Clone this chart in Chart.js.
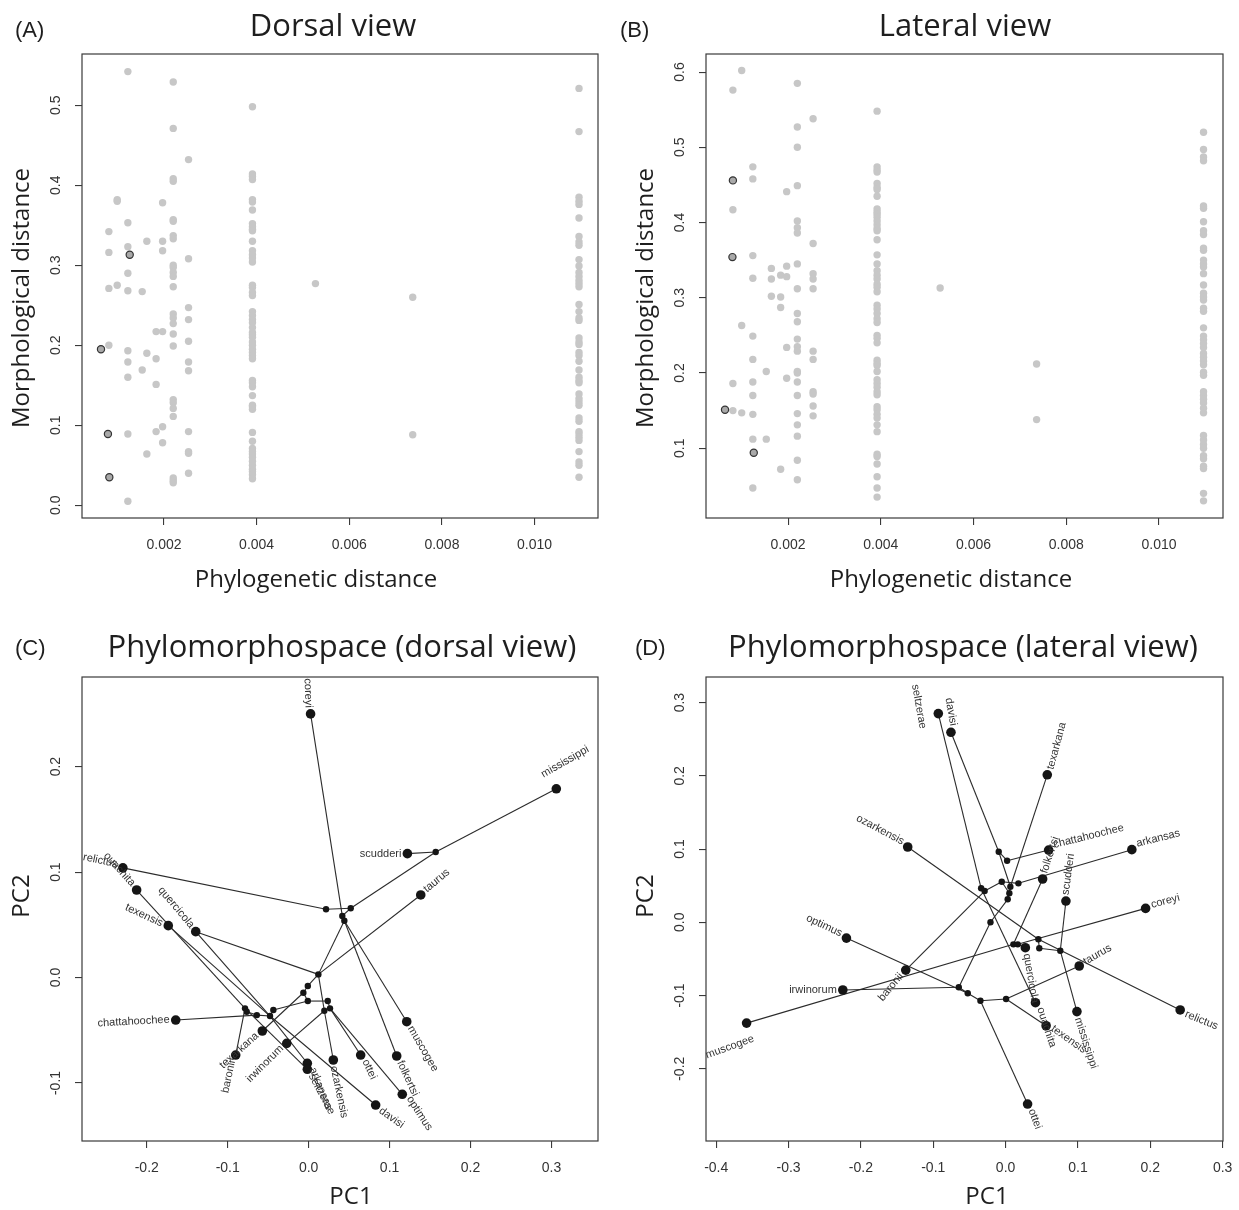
<!DOCTYPE html>
<html>
<head>
<meta charset="utf-8">
<script src="https://cdn.jsdelivr.net/npm/chart.js@4.4.1/dist/chart.umd.min.js"></script>
<style>
  body { margin: 0; background: #fff; }
  #wrap { position: relative; width: 1239px; height: 1210px; }
  canvas { position: absolute; }
</style>
</head>
<body>
<div id="wrap">
  <canvas id="pA" width="620" height="605" style="left:0;top:0"></canvas>
  <canvas id="pB" width="619" height="605" style="left:620px;top:0"></canvas>
  <canvas id="pC" width="620" height="605" style="left:0;top:605px"></canvas>
  <canvas id="pD" width="619" height="605" style="left:620px;top:605px"></canvas>
</div>
<script>
// ---------- ticks ----------
const phyloTicks = [0.002, 0.004, 0.006, 0.008, 0.010];
const dorsalMorphTicks = [0.0, 0.1, 0.2, 0.3, 0.4, 0.5];
const lateralMorphTicks = [0.1, 0.2, 0.3, 0.4, 0.5, 0.6];
const pcTicksCx = [-0.2, -0.1, 0.0, 0.1, 0.2, 0.3];
const pcTicksCy = [-0.1, 0.0, 0.1, 0.2];
const pcTicksDx = [-0.4, -0.3, -0.2, -0.1, 0.0, 0.1, 0.2, 0.3];
const pcTicksDy = [-0.2, -0.1, 0.0, 0.1, 0.2, 0.3];

// ---------- (A) dorsal: phylogenetic vs morphological distance ----------
const dorsalX = [0.00081, 0.00099, 0.00122, 0.00153, 0.00163, 0.00183, 0.00197, 0.00220, 0.00253, 0.00391, 0.00527, 0.00737, 0.01096];
const dorsalY = [
  [0.271, 0.316, 0.342, 0.200],
  [0.382, 0.380, 0.275],
  [0.542, 0.353, 0.323, 0.290, 0.268, 0.193, 0.179, 0.160, 0.089, 0.005],
  [0.267, 0.169],
  [0.330, 0.190, 0.064],
  [0.217, 0.183, 0.151, 0.092],
  [0.378, 0.330, 0.318, 0.217, 0.098, 0.078],
  [0.529, 0.471, 0.408, 0.405, 0.357, 0.355, 0.337, 0.333, 0.300, 0.297, 0.291, 0.286, 0.273, 0.239, 0.234, 0.227, 0.214, 0.199, 0.132, 0.128, 0.121, 0.111, 0.034, 0.031, 0.028],
  [0.432, 0.308, 0.247, 0.232, 0.205, 0.179, 0.168, 0.092, 0.067, 0.065, 0.040],
  [0.498, 0.414, 0.411, 0.407, 0.382, 0.379, 0.369, 0.352, 0.348, 0.345, 0.343, 0.330, 0.318, 0.313, 0.309, 0.304, 0.275, 0.272, 0.266, 0.262, 0.242, 0.237, 0.232, 0.228, 0.222, 0.216, 0.213, 0.210, 0.204, 0.200, 0.195, 0.191, 0.187, 0.183, 0.156, 0.153, 0.148, 0.137, 0.125, 0.123, 0.120, 0.091, 0.080, 0.071, 0.067, 0.064, 0.060, 0.055, 0.050, 0.045, 0.042, 0.038, 0.033],
  [0.277],
  [0.260, 0.088],
  [0.521, 0.467, 0.385, 0.380, 0.376, 0.359, 0.336, 0.329, 0.325, 0.307, 0.299, 0.291, 0.286, 0.281, 0.277, 0.273, 0.251, 0.242, 0.234, 0.231, 0.209, 0.204, 0.201, 0.191, 0.187, 0.180, 0.169, 0.160, 0.156, 0.153, 0.139, 0.133, 0.129, 0.125, 0.109, 0.105, 0.092, 0.089, 0.085, 0.081, 0.067, 0.054, 0.050, 0.035]
];
const dorsalHiX = [0.00064, 0.00079, 0.00082, 0.00126];
const dorsalHiY = [0.195, 0.089, 0.035, 0.313];

// ---------- (B) lateral ----------
const lateralX = [0.00081, 0.00100, 0.00124, 0.00153, 0.00164, 0.00184, 0.00197, 0.00220, 0.00254, 0.00392, 0.00528, 0.00736, 0.01096];
const lateralY = [
  [0.576, 0.417, 0.186, 0.150],
  [0.602, 0.263, 0.147],
  [0.474, 0.458, 0.356, 0.326, 0.249, 0.218, 0.188, 0.170, 0.145, 0.112, 0.047],
  [0.202, 0.112],
  [0.339, 0.325, 0.302],
  [0.330, 0.301, 0.287, 0.072],
  [0.441, 0.342, 0.328, 0.234, 0.193],
  [0.585, 0.527, 0.500, 0.449, 0.402, 0.393, 0.386, 0.345, 0.312, 0.279, 0.268, 0.245, 0.235, 0.229, 0.202, 0.200, 0.188, 0.170, 0.146, 0.131, 0.116, 0.084, 0.058],
  [0.538, 0.372, 0.332, 0.325, 0.312, 0.229, 0.218, 0.175, 0.172, 0.156, 0.143],
  [0.548, 0.474, 0.470, 0.467, 0.452, 0.447, 0.444, 0.435, 0.418, 0.414, 0.411, 0.407, 0.402, 0.397, 0.392, 0.389, 0.377, 0.357, 0.345, 0.336, 0.330, 0.325, 0.318, 0.314, 0.308, 0.290, 0.285, 0.279, 0.272, 0.267, 0.250, 0.246, 0.240, 0.217, 0.213, 0.210, 0.202, 0.191, 0.186, 0.181, 0.175, 0.171, 0.155, 0.151, 0.145, 0.140, 0.131, 0.122, 0.092, 0.089, 0.079, 0.062, 0.047, 0.035],
  [0.313],
  [0.212, 0.138],
  [0.520, 0.497, 0.487, 0.482, 0.422, 0.419, 0.401, 0.389, 0.384, 0.366, 0.363, 0.350, 0.345, 0.341, 0.332, 0.317, 0.306, 0.301, 0.297, 0.286, 0.282, 0.260, 0.249, 0.244, 0.239, 0.234, 0.226, 0.221, 0.216, 0.211, 0.201, 0.197, 0.175, 0.170, 0.165, 0.160, 0.153, 0.147, 0.117, 0.111, 0.105, 0.100, 0.090, 0.086, 0.076, 0.073, 0.040, 0.030]
];
const lateralHiX = [0.00064, 0.00081, 0.00080, 0.00126];
const lateralHiY = [0.151, 0.456, 0.354, 0.094];

// ---------- (C) phylomorphospace dorsal ----------
const tipNamesC = ["coreyi", "mississippi", "scudderi", "relictus", "ouachita", "taurus", "texensis", "quercicola", "chattahoochee", "muscogee",
  "texarkana", "irwinorum", "baronii", "ozarkensis", "ottei", "folkertsi", "arkansas", "seltzerae", "optimus", "davisi"];
const tipXC = [0.0024, 0.306, 0.122, -0.2295, -0.2125, 0.1385, -0.1734, -0.1395, -0.1642, 0.1212,
  -0.0572, -0.027, -0.0901, 0.0305, 0.0643, 0.1088, -0.0016, -0.0016, 0.1157, 0.0828];
const tipYC = [0.250, 0.179, 0.1175, 0.104, 0.083, 0.0783, 0.0492, 0.0435, -0.0403, -0.0419,
  -0.0507, -0.0624, -0.0735, -0.0782, -0.0735, -0.0744, -0.0813, -0.0870, -0.1107, -0.1209];
const nodeIdsC = ["B", "C", "D", "A1", "A2", "E", "F", "G", "H", "I", "J", "K", "L", "M", "N", "O", "P"];
const nodeXC = [0.157, 0.052, 0.0215, 0.0416, 0.0441, 0.012, -0.001, -0.0065, -0.001, 0.0236, 0.0194, 0.0264, -0.0786, -0.0765, -0.064, -0.0477, -0.0436];
const nodeYC = [0.119, 0.0657, 0.0647, 0.0584, 0.0539, 0.003, -0.008, -0.0144, -0.0223, -0.0223, -0.0315, -0.0292, -0.0292, -0.0324, -0.0356, -0.0365, -0.0308];
const edgesC = [
  ["coreyi", "A1"], ["A1", "C"], ["C", "D"], ["D", "relictus"], ["C", "B"], ["B", "mississippi"], ["B", "scudderi"],
  ["A1", "A2"], ["A2", "muscogee"], ["A2", "folkertsi"], ["A2", "E"], ["E", "taurus"], ["E", "quercicola"],
  ["E", "J"], ["J", "ozarkensis"], ["J", "irwinorum"], ["E", "F"], ["F", "G"], ["G", "texarkana"], ["G", "H"],
  ["H", "I"], ["I", "K"], ["K", "ottei"], ["K", "optimus"], ["H", "P"], ["P", "O"], ["O", "N"], ["N", "chattahoochee"],
  ["N", "M"], ["M", "L"], ["L", "baronii"], ["L", "ouachita"], ["L", "seltzerae"], ["quercicola", "O"], ["O", "arkansas"],
  ["texensis", "O"], ["O", "davisi"]
];
// label rotation (deg, counter-clockwise) and side of the dot the label sits on (deg)
const labelRotC = [-88, 30, 0, -12, -48, 40, -25, -50, 3, -60, 42, 45, 78, -78, -65, -65, -68, -62, -57, -35];
const labelDirC = [97, 72, 180, 162, 130, 42, 157, 129, 182, -59, 220, 223, 252, -80, -59, -64, -62, -60, -48, -39];

// ---------- (D) phylomorphospace lateral ----------
const tipNamesD = ["seltzerae", "davisi", "texarkana", "ozarkensis", "chattahoochee", "arkansas", "folkertsi", "scudderi", "coreyi", "optimus",
  "taurus", "baronii", "irwinorum", "relictus", "muscogee", "quercicola", "ouachita", "texensis", "mississippi", "ottei"];
const tipXD = [-0.093, -0.0755, 0.0576, -0.1353, 0.0595, 0.1745, 0.0512, 0.0834, 0.1935, -0.220,
  0.1018, -0.138, -0.225, 0.2413, -0.358, 0.0273, 0.0413, 0.056, 0.0986, 0.0304];
const tipYD = [0.285, 0.2595, 0.2014, 0.1028, 0.0987, 0.0992, 0.0591, 0.029, 0.019, -0.0216,
  -0.0597, -0.0653, -0.0925, -0.1197, -0.1377, -0.0347, -0.1098, -0.1413, -0.122, -0.2482];
const nodeIdsD = ["a", "b", "c", "e", "d1", "d2", "d3", "g1", "g2", "i", "j", "k", "m", "n", "o", "p", "q", "r", "s"];
const nodeXD = [-0.0095, 0.0021, -0.0053, 0.0177, 0.0066, 0.0052, 0.0029, -0.0338, -0.029, -0.0209, 0.0108, 0.0168, 0.0453, 0.0466, 0.0756, -0.0647, -0.0523, -0.0348, 0.0007];
const nodeYD = [0.0964, 0.0841, 0.0554, 0.0532, 0.0486, 0.0396, 0.0314, 0.0464, 0.0427, 0.0, -0.0301, -0.0301, -0.0232, -0.0355, -0.0388, -0.0888, -0.097, -0.1071, -0.1048];
const edgesD = [
  ["seltzerae", "g1"], ["g1", "ouachita"], ["davisi", "a"], ["a", "b"], ["b", "chattahoochee"], ["a", "d1"], ["d1", "d2"], ["d2", "d3"],
  ["c", "e"], ["e", "arkansas"], ["texarkana", "d1"], ["d3", "i"], ["i", "p"], ["folkertsi", "j"], ["j", "k"], ["scudderi", "o"],
  ["o", "mississippi"], ["ozarkensis", "m"], ["m", "relictus"], ["m", "n"], ["n", "o"], ["coreyi", "k"], ["j", "muscogee"],
  ["irwinorum", "p"], ["optimus", "q"], ["baronii", "g2"], ["g1", "g2"], ["g2", "c"], ["c", "d2"], ["p", "q"], ["q", "r"],
  ["r", "s"], ["r", "ottei"], ["s", "taurus"], ["s", "texensis"], ["quercicola", "k"]
];
const labelRotD = [-80, -80, 75, -28, 14, 14, 72, 82, 15, -25, 30, 50, 0, -22, 20, -80, -72, -35, -72, -70];
const labelDirD = [160, 90, 72, 148, 19, 23, 73, 85, 20, 151, 32, 229, 180, -26, 235, -80, -66, -31, -74, -64];

// ---------- helpers ----------
const tickFont = '14px "Liberation Sans", Arial, sans-serif';
const titleFont = '31px "Open Sans", sans-serif';
const axisFont = '24px "Open Sans", sans-serif';
const letterFont = '22px "Liberation Sans", Arial, sans-serif';
const tipFont = '11px "Liberation Sans", Arial, sans-serif';

function colsToPoints(xs, ys) {
  const pts = [];
  xs.forEach((x, i) => ys[i].forEach(y => pts.push({ x, y })));
  return pts;
}

function treeDatasets(names, tx, ty, ids, nx, ny, edges) {
  const pos = {};
  names.forEach((n, i) => (pos[n] = { x: tx[i], y: ty[i] }));
  ids.forEach((n, i) => (pos[n] = { x: nx[i], y: ny[i] }));
  const ds = [
    { data: names.map((n, i) => ({ x: tx[i], y: ty[i] })), pointRadius: 4.8, backgroundColor: "#151515", borderWidth: 0 },
    { data: ids.map((n, i) => ({ x: nx[i], y: ny[i] })), pointRadius: 3.2, backgroundColor: "#151515", borderWidth: 0 }
  ];
  edges.forEach(([a, b]) => ds.push({
    data: [{ ...pos[a] }, { ...pos[b] }], showLine: true, pointRadius: 0,
    borderColor: "#2b2b2b", borderWidth: 1.1, tension: 0
  }));
  return ds;
}

function makeDeco(cfg) {
  return {
    id: "deco",
    afterDatasetsDraw(chart) {
      if (!cfg.tips) return;
      const { ctx } = chart;
      const sx = chart.scales.x, sy = chart.scales.y;
      const t = cfg.tips;
      ctx.save();
      ctx.font = tipFont;
      ctx.fillStyle = "#333";
      ctx.textAlign = "center";
      ctx.textBaseline = "middle";
      t.names.forEach((n, i) => {
        const px = sx.getPixelForValue(t.xs[i]), py = sy.getPixelForValue(t.ys[i]);
        const w = ctx.measureText(n).width, h = 8;
        const a = t.rot[i] * Math.PI / 180, d = t.dir[i] * Math.PI / 180;
        const ext = Math.abs(Math.cos(d - a)) * w / 2 + Math.abs(Math.sin(d - a)) * h / 2;
        const r = 6 + ext;
        ctx.save();
        ctx.translate(px + r * Math.cos(d), py - r * Math.sin(d));
        ctx.rotate(-a);
        ctx.fillText(n, 0, 0);
        ctx.restore();
      });
      ctx.restore();
    },
    afterDraw(chart) {
      const { ctx, chartArea: ar } = chart;
      const sx = chart.scales.x, sy = chart.scales.y;
      ctx.save();
      ctx.strokeStyle = "#3a3a3a";
      ctx.lineWidth = 1.2;
      ctx.strokeRect(ar.left, ar.top, ar.right - ar.left, ar.bottom - ar.top);

      ctx.fillStyle = "#333";
      ctx.font = tickFont;
      ctx.textAlign = "center";
      ctx.textBaseline = "middle";
      cfg.xTicks.forEach(v => ctx.fillText(v.toFixed(cfg.xDec), sx.getPixelForValue(v), ar.bottom + 27));
      cfg.yTicks.forEach(v => {
        ctx.save();
        ctx.translate(ar.left - 26, sy.getPixelForValue(v));
        ctx.rotate(-Math.PI / 2);
        ctx.fillText(v.toFixed(cfg.yDec), 0, 0);
        ctx.restore();
      });

      ctx.fillStyle = "#1e1e1e";
      ctx.font = axisFont;
      ctx.fillText(cfg.xTitle, cfg.xTitlePos[0], cfg.xTitlePos[1]);
      ctx.save();
      ctx.translate(cfg.yTitlePos[0], cfg.yTitlePos[1]);
      ctx.rotate(-Math.PI / 2);
      ctx.fillText(cfg.yTitle, 0, 0);
      ctx.restore();

      ctx.textBaseline = "alphabetic";
      ctx.font = titleFont;
      ctx.fillText(cfg.title, cfg.titlePos[0], cfg.titlePos[1]);
      ctx.textAlign = "left";
      ctx.font = letterFont;
      ctx.fillText(cfg.letter, cfg.letterPos[0], cfg.letterPos[1]);
      ctx.restore();
    }
  };
}

function axis(min, max, ticks, horizontal) {
  return {
    type: "linear", min, max,
    afterBuildTicks: s => { s.ticks = ticks.map(v => ({ value: v })); },
    afterFit: s => { if (horizontal) s.height = 0; else s.width = 0; },
    ticks: { display: false },
    grid: { drawOnChartArea: false, drawTicks: true, tickLength: 7, color: "#3a3a3a", lineWidth: 1.1 },
    border: { display: false }
  };
}

function makePanel(id, datasets, pad, xr, yr, cfg) {
  new Chart(document.getElementById(id), {
    type: "scatter",
    data: { datasets },
    options: {
      responsive: false, animation: false, events: [],
      layout: { padding: pad },
      plugins: { legend: { display: false }, tooltip: { enabled: false } },
      scales: {
        x: axis(xr[0], xr[1], cfg.xTicks, true),
        y: axis(yr[0], yr[1], cfg.yTicks, false)
      }
    },
    plugins: [makeDeco(cfg)]
  });
}

function scatterSets(xs, ys, hx, hy) {
  return [
    { data: hx.map((x, i) => ({ x, y: hy[i] })), pointRadius: 3.6, backgroundColor: "#a9a9a9", borderColor: "#333", borderWidth: 1.2 },
    { data: colsToPoints(xs, ys), pointRadius: 3.7, backgroundColor: "#c7c7c7", borderWidth: 0 }
  ];
}

function draw() {
  makePanel("pA", scatterSets(dorsalX, dorsalY, dorsalHiX, dorsalHiY),
    { left: 82, top: 54, right: 22, bottom: 87 }, [0.00023, 0.01137], [-0.016, 0.564], {
      xTicks: phyloTicks, xDec: 3, yTicks: dorsalMorphTicks, yDec: 1,
      title: "Dorsal view", titlePos: [333, 36], letter: "(A)", letterPos: [15, 37],
      xTitle: "Phylogenetic distance", xTitlePos: [316, 580],
      yTitle: "Morphological distance", yTitlePos: [22, 298]
    });

  makePanel("pB", scatterSets(lateralX, lateralY, lateralHiX, lateralHiY),
    { left: 86, top: 54, right: 16, bottom: 87 }, [0.00023, 0.01138], [0.0072, 0.624], {
      xTicks: phyloTicks, xDec: 3, yTicks: lateralMorphTicks, yDec: 1,
      title: "Lateral view", titlePos: [345, 36], letter: "(B)", letterPos: [0, 37],
      xTitle: "Phylogenetic distance", xTitlePos: [331, 580],
      yTitle: "Morphological distance", yTitlePos: [26, 298]
    });

  makePanel("pC", treeDatasets(tipNamesC, tipXC, tipYC, nodeIdsC, nodeXC, nodeYC, edgesC),
    { left: 82, top: 72, right: 22, bottom: 69 }, [-0.28, 0.3575], [-0.155, 0.285], {
      xTicks: pcTicksCx, xDec: 1, yTicks: pcTicksCy, yDec: 1,
      title: "Phylomorphospace (dorsal view)", titlePos: [342, 52], letter: "(C)", letterPos: [15, 50],
      xTitle: "PC1", xTitlePos: [351, 592], yTitle: "PC2", yTitlePos: [22, 291],
      tips: { names: tipNamesC, xs: tipXC, ys: tipYC, rot: labelRotC, dir: labelDirC }
    });

  makePanel("pD", treeDatasets(tipNamesD, tipXD, tipYD, nodeIdsD, nodeXD, nodeYD, edgesD),
    { left: 86, top: 72, right: 16, bottom: 69 }, [-0.4141, 0.3005], [-0.2987, 0.335], {
      xTicks: pcTicksDx, xDec: 1, yTicks: pcTicksDy, yDec: 1,
      title: "Phylomorphospace (lateral view)", titlePos: [343, 52], letter: "(D)", letterPos: [15, 50],
      xTitle: "PC1", xTitlePos: [367, 592], yTitle: "PC2", yTitlePos: [26, 291],
      tips: { names: tipNamesD, xs: tipXD, ys: tipYD, rot: labelRotD, dir: labelDirD }
    });
}

Promise.all([
  document.fonts.load(titleFont), document.fonts.load(axisFont),
  document.fonts.load(tickFont), document.fonts.load(tipFont)
]).then(draw, draw);
</script>
</body>
</html>
